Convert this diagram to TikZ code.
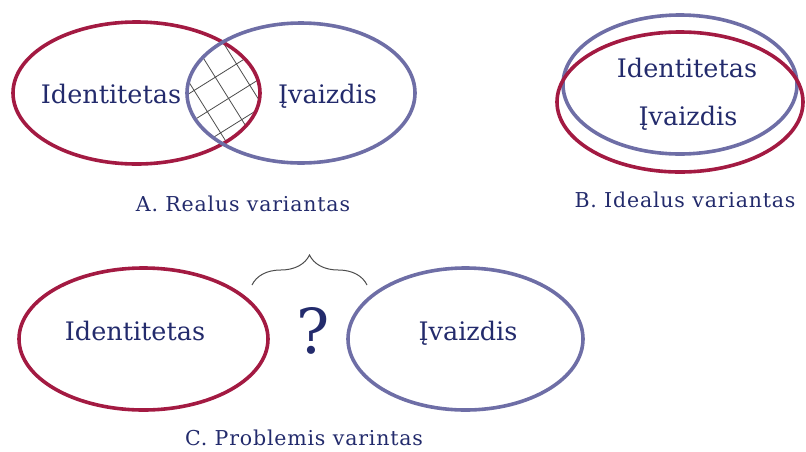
\documentclass[tikz,border=0pt]{standalone}
\usepackage{fontspec}
\setmainfont{DejaVu Serif}
\usetikzlibrary{shapes.geometric,decorations.pathreplacing}
\definecolor{ired}{HTML}{A31A42}
\definecolor{iblue}{HTML}{6E6EA6}
\definecolor{itext}{HTML}{232B6C}
\begin{document}
\begin{tikzpicture}[x=1pt,y=-1pt,
  redell/.style={ellipse, draw=ired, line width=3.6pt, inner sep=0pt},
  blueell/.style={ellipse, draw=iblue, line width=3.6pt, inner sep=0pt},
  lbl/.style={text=itext, font=\fontsize{25.5}{30}\selectfont, inner sep=0pt, anchor=base},
  capt/.style={text=itext, font=\fontsize{20.5}{24}\selectfont\addfontfeatures{LetterSpace=4}, inner sep=0pt, anchor=base},
  hatch/.style={draw=black!70, line width=0.8pt},
  bracestyle/.style={draw=black!70, line width=1pt, decorate, decoration={brace, amplitude=30pt}}]
\useasboundingbox (0,0) rectangle (806,451);
% ---------- A ----------
\begin{scope}
  \clip (136.5,93) ellipse [x radius=123.5pt, y radius=71pt];
  \clip (301,93) ellipse [x radius=114pt, y radius=70pt];
  \begin{scope}[rotate around={32:(224,93)}]
    \draw[hatch, step=25pt] (110,-20) grid (340,210);
  \end{scope}
\end{scope}
\node[redell, minimum width=247pt, minimum height=142pt] (aid) at (136.5,93) {};
\node[blueell, minimum width=228pt, minimum height=140pt] (aiv) at (301,93) {};
\node[lbl] (taid) at (111,103) {Identitetas};
\node[lbl] (taiv) at (327.5,103) {Įvaizdis};
\node[capt] (capa) at (243,211) {A. Realus variantas};
% ---------- B ----------
\node[blueell, minimum width=234pt, minimum height=139pt] (biv) at (680,84.5) {};
\node[redell, minimum width=246pt, minimum height=140pt] (bid) at (680,102) {};
\node[lbl] (tbid) at (687,77) {Identitetas};
\node[lbl] (tbiv) at (688,125) {Įvaizdis};
\node[capt] (capb) at (685,207) {B. Idealus variantas};
% ---------- C ----------
\node[redell, minimum width=249pt, minimum height=142pt] (cid) at (143.5,339) {};
\node[blueell, minimum width=235pt, minimum height=142pt] (civ) at (465.5,339) {};
\node[lbl] (tcid) at (135,340) {Identitetas};
\node[lbl] (tciv) at (468,340) {Įvaizdis};
\node[text=itext, font=\fontsize{62}{66}\selectfont, inner sep=0pt, anchor=base] (q) at (313,353) {?};
\coordinate (bl) at (252,285);
\coordinate (br) at (367,285);
\draw[bracestyle] (bl) -- (br);
\node[capt] (capc) at (304,445) {C. Problemis varintas};
\end{tikzpicture}
\end{document}
